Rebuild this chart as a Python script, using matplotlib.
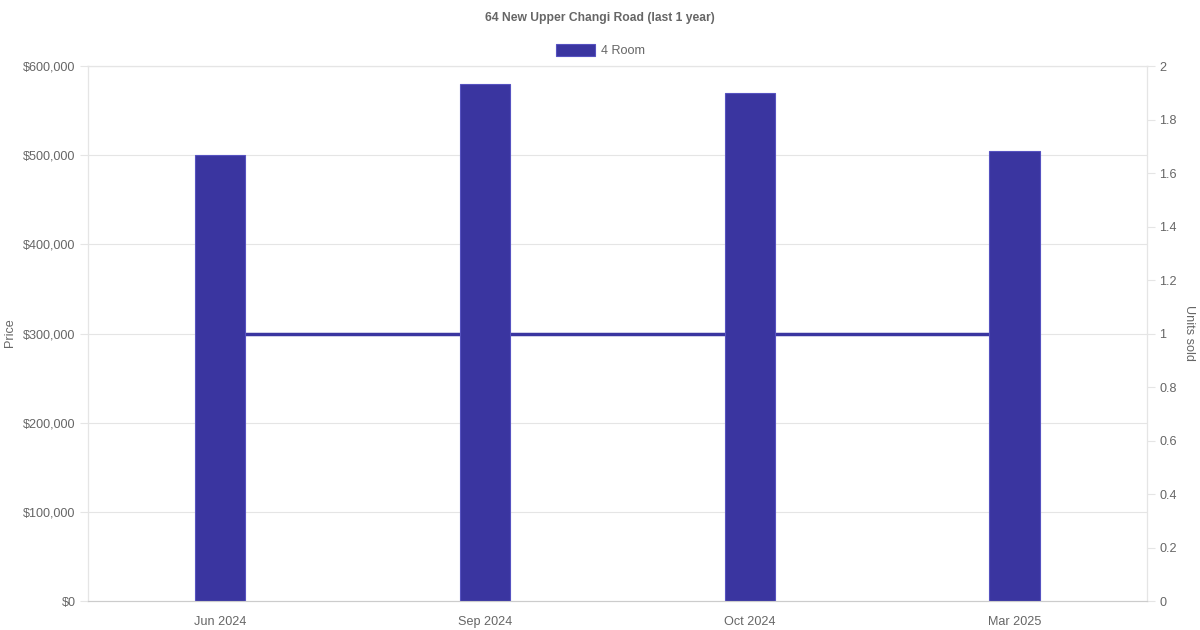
import numpy as np
import matplotlib.pyplot as plt
from matplotlib.ticker import FuncFormatter, MultipleLocator

plt.rcParams['font.family'] = ['Liberation Sans', 'DejaVu Sans']

# data
months = ['Jun 2024', 'Sep 2024', 'Oct 2024', 'Mar 2025']
prices = [500000, 580000, 570000, 505000]
units_sold = [1, 1, 1, 1]

bar_col = '#3a35a0'
edge_col = '#5652c0'
grey = '#666666'
grid = '#e5e5e5'
fs = 9.1

fig = plt.figure(figsize=(12, 6.3), dpi=100)
ax2 = fig.add_axes([0.0733, 0.046, 0.8825, 0.8492])
ax = ax2.twinx()   # price axis on top so bars cover the line
ax.yaxis.tick_left()
ax.yaxis.set_label_position('left')
ax2.yaxis.tick_right()
ax2.yaxis.set_label_position('right')

x = np.arange(len(months))

ax.bar(x, prices, width=0.19, color=bar_col, edgecolor=edge_col, linewidth=0.8)
ax2.plot(x, units_sold, color=bar_col, linewidth=2.5, zorder=3)

ax.set_xlim(-0.5, len(months) - 0.5)
ax.set_ylim(0, 600000)
ax2.set_ylim(0, 2)
ax.yaxis.set_major_locator(MultipleLocator(100000))
ax2.yaxis.set_major_locator(MultipleLocator(0.2))
ax.yaxis.set_major_formatter(FuncFormatter(lambda v, p: '${:,.0f}'.format(v)))
ax2.yaxis.set_major_formatter(FuncFormatter(lambda v, p: ('%.1f' % v).rstrip('0').rstrip('.')))

# horizontal grid of the price axis, drawn on the lower axes
for v in ax.get_yticks():
    if 0 < v <= 600000:
        ax2.axhline(v / 600000 * 2, color=grid, linewidth=0.8, zorder=1)

ax2.set_xticks(x)
ax2.set_xticklabels(months)
ax.set_xticks(x)

for a in (ax, ax2):
    for s in a.spines.values():
        s.set_color(grid)
    a.spines['bottom'].set_color('#cccccc')
    a.tick_params(colors=grey, labelsize=fs, length=6, width=0.8)
    a.tick_params(axis='y', color=grid)
ax.tick_params(axis='x', length=0, labelbottom=False)
ax2.tick_params(axis='x', length=0, pad=11)
ax.tick_params(axis='y', pad=3)
ax2.tick_params(axis='y', pad=3)

fig.text(10 / 1200, 1 - 333 / 630, 'Price', rotation=90, ha='center', va='center',
         fontsize=fs, color=grey)
fig.text(1189 / 1200, 1 - 333 / 630, 'Units sold', rotation=270, ha='center', va='center',
         fontsize=fs, color=grey)

fig.text(0.5, 1 - 17.5 / 630, '64 New Upper Changi Road (last 1 year)', ha='center', va='center',
         fontsize=8.7, fontweight='bold', color=grey)
# legend
fig.patches.append(plt.Rectangle((556 / 1200, 1 - 56 / 630), 39 / 1200, 12 / 630,
                                 transform=fig.transFigure, facecolor=bar_col,
                                 edgecolor=edge_col, linewidth=0.8))
fig.text(601 / 1200, 1 - 50.5 / 630, '4 Room', ha='left', va='center', fontsize=fs, color=grey)

fig.savefig('out.png', dpi=100)
